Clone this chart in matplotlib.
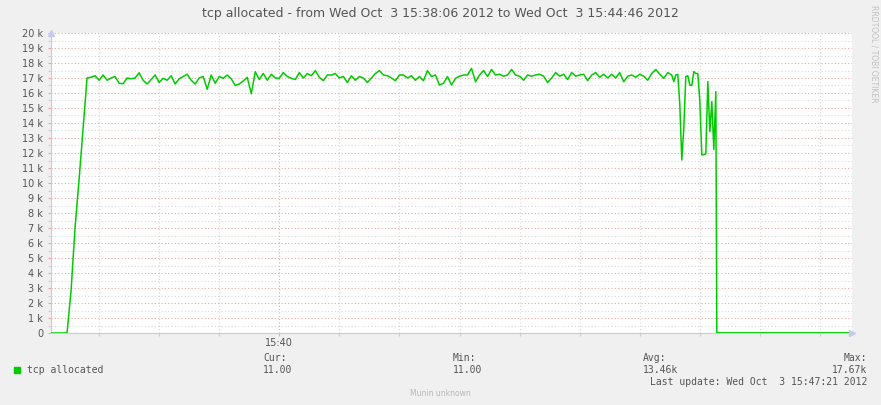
import numpy as np
import pandas as pd
import matplotlib
matplotlib.use("Agg")
import matplotlib.pyplot as plt
import matplotlib.dates as mdates
from matplotlib.ticker import MultipleLocator, FuncFormatter

# data: tcp allocated, thousands, sampled every 2 s from 15:38:06
start = pd.Timestamp("2012-10-03 15:38:06")
end = pd.Timestamp("2012-10-03 15:44:46")
main_step = 2
main_k = [0, 0, 0, 0, 0, 2.8, 7.0, 10.2, 13.6, 17.0,
          17.05, 17.15, 16.85, 17.2, 16.85, 17.0, 17.1, 16.65, 16.62, 17.0,
          16.95, 17.0, 17.35, 16.85, 16.6, 16.9, 17.2, 16.7, 16.98, 16.85,
          17.15, 16.6, 16.95, 17.1, 17.25, 16.85, 16.6, 17.0, 17.1, 16.25,
          17.2, 16.65, 17.1, 16.98, 17.2, 16.95, 16.5, 16.6, 16.8, 17.05,
          15.95, 17.42, 16.9, 17.3, 16.85, 17.25, 17.0, 16.98, 17.36, 17.1,
          16.98, 16.9, 17.36, 17.0, 17.3, 17.15, 17.49, 17.05, 16.82, 17.2,
          17.2, 17.3, 17.0, 17.1, 16.7, 17.15, 16.85, 17.1, 17.0, 16.7,
          17.0, 17.3, 17.49, 17.2, 17.15, 17.0, 16.82, 17.2, 17.2, 17.0,
          17.15, 16.85, 17.1, 16.82, 17.49, 17.1, 17.2, 16.53, 16.65, 17.1,
          16.53, 16.98, 17.12, 17.2, 17.2, 17.64, 16.75, 17.2, 17.5, 17.1,
          17.57, 17.2, 17.25, 17.12, 17.2, 17.57, 17.2, 17.12, 16.85, 17.2,
          17.12, 17.2, 17.25, 17.12, 16.7, 17.0, 17.36, 17.12, 17.25, 16.9,
          17.36, 17.12, 17.2, 17.25, 16.82, 17.2, 17.36, 17.05, 17.25, 17.0,
          17.25, 17.0, 17.36, 16.75, 17.12, 17.2, 17.05, 17.25, 17.12, 16.85,
          17.3, 17.57, 17.25, 16.98, 17.36, 17.2]
# last part at 1 s resolution
tail_start = 311
tail_k = [16.76, 17.2, 17.25, 15.27, 11.53, 13.64, 17.09, 17.15, 16.53, 16.5,
          17.42, 17.3, 17.3, 15.5, 11.87, 11.9, 11.95, 16.76, 13.42, 15.42,
          12.24, 16.09]
last_k = 0.011

legend_cur = "11.00"
legend_min = "11.00"
legend_avg = "13.46k"
legend_max = "17.67k"

secs = np.concatenate([np.arange(len(main_k)) * main_step,
                       tail_start + np.arange(len(tail_k)),
                       [tail_start + len(tail_k) - 0.5, (end - start).total_seconds()]])
vals = np.concatenate([main_k, tail_k, [last_k, last_k]]) * 1000
times = start + pd.to_timedelta(secs, unit="s")

bg = "#f0f0f0"
txt = "#555555"
fig = plt.figure(figsize=(8.81, 4.05), dpi=100, facecolor=bg)
W, H = 881, 405
ax = fig.add_axes([51 / W, (H - 333) / H, 801 / W, 300 / H])
ax.set_facecolor("white")

ax.plot(times, vals, color="#00cc00", lw=1.1, zorder=3)

ax.set_xlim(start, end)
ax.set_ylim(0, 20000)

ax.yaxis.set_major_locator(MultipleLocator(1000))
ax.yaxis.set_minor_locator(MultipleLocator(500))
ax.yaxis.set_major_formatter(FuncFormatter(lambda v, p: "0" if v == 0 else "%d k" % round(v / 1000)))
ax.xaxis.set_major_locator(mdates.MinuteLocator(byminute=range(0, 60, 10)))
ax.xaxis.set_minor_locator(mdates.SecondLocator(bysecond=[0, 30]))
ax.xaxis.set_major_formatter(mdates.DateFormatter("%H:%M"))

ax.grid(True, which="minor", color="#d8d8d8", linestyle=(0, (1, 2)), lw=0.8)
ax.grid(True, which="major", color="#e8a8a8", linestyle=(0, (1, 2)), lw=0.8)
ax.set_axisbelow(True)

for s in ["top", "right"]:
    ax.spines[s].set_visible(False)
for s in ["left", "bottom"]:
    ax.spines[s].set_color("#c8c8f0")
    ax.spines[s].set_linewidth(0.8)

ax.tick_params(axis="both", which="both", length=2.5, width=0.8, colors="#e8a8a8",
               labelcolor=txt, labelsize=7, pad=3)
ax.tick_params(axis="both", which="minor", colors="#d0d0d0")
ax.tick_params(axis="x", which="major", pad=1)

# axis arrows
ax.plot([0], [1.0], transform=ax.transAxes, marker="^", ms=5, color="#c8c8f0",
        clip_on=False, zorder=4)
ax.plot([1.0], [0], transform=ax.transAxes, marker=">", ms=5, color="#c8c8f0",
        clip_on=False, zorder=4)

fig.text(440 / W, 1 - 14 / H,
         "tcp allocated - from Wed Oct  3 15:38:06 2012 to Wed Oct  3 15:44:46 2012",
         ha="center", va="center", fontsize=9, color=txt)
fig.text(874 / W, 1 - 5 / H, "RRDTOOL / TOBI OETIKER", rotation=270,
         ha="center", va="top", fontsize=5.5, color="#c0c0c0")

mono = dict(family="DejaVu Sans Mono", fontsize=7, color=txt, va="center")
fig.patches.append(plt.Rectangle((14 / W, 1 - 373 / H), 6 / W, 6 / H,
                                 transform=fig.transFigure, color="#00cc00"))
fig.text(27 / W, 1 - 370 / H, "tcp allocated", ha="left", **mono)
fig.text(263 / W, 1 - 358 / H, "Cur:", ha="left", **mono)
fig.text(263 / W, 1 - 370 / H, legend_cur, ha="left", **mono)
fig.text(453 / W, 1 - 358 / H, "Min:", ha="left", **mono)
fig.text(453 / W, 1 - 370 / H, legend_min, ha="left", **mono)
fig.text(643 / W, 1 - 358 / H, "Avg:", ha="left", **mono)
fig.text(643 / W, 1 - 370 / H, legend_avg, ha="left", **mono)
fig.text(867 / W, 1 - 358 / H, "Max:", ha="right", **mono)
fig.text(867 / W, 1 - 370 / H, legend_max, ha="right", **mono)
fig.text(867 / W, 1 - 382 / H, "Last update: Wed Oct  3 15:47:21 2012", ha="right", **mono)
fig.text(440 / W, 1 - 394 / H, "Munin unknown", ha="center", va="center",
         fontsize=5.5, color="#b8b8b8")

fig.savefig("out.png", dpi=100, facecolor=bg)
